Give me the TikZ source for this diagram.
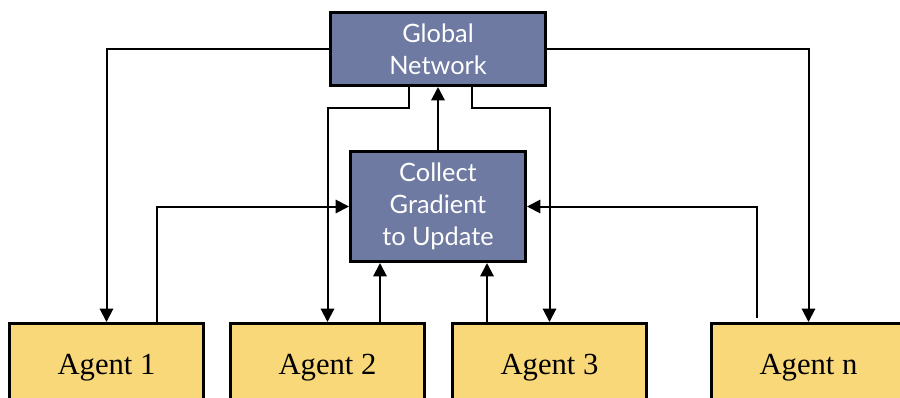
\documentclass[tikz,border=0pt]{standalone}
\usepackage{fontspec}
\usetikzlibrary{arrows.meta}
\newfontfamily\boxsans{Lato}
\newfontfamily\agentserif{Liberation Serif}
\definecolor{slate}{HTML}{6E7AA2}
\definecolor{sand}{HTML}{F9D87A}
\tikzset{
  netbox/.style={draw=black, line width=2.25pt, fill=slate, text=white, align=center,
    font=\boxsans\fontsize{19}{24}\selectfont, inner sep=0pt},
  agentbox/.style={draw=black, line width=2.25pt, fill=sand, text=black, align=center,
    font=\agentserif\fontsize{23}{26}\selectfont, inner sep=0pt,
    minimum width=145.5pt, minimum height=67.5pt},
  conn/.style={line width=1.5pt, -{Triangle[length=10pt,width=10pt]}},
}
\newcommand{\agtxt}[1]{\raisebox{5.6pt}{#1}}
\begin{document}
\begin{tikzpicture}[x=0.75pt,y=-0.75pt]
\clip (0,0) rectangle (900,397);
\useasboundingbox (0,0) rectangle (900,397);
\node[netbox, minimum width=161.25pt, minimum height=54.75pt] (G) at (438,49) {Global\\Network};
\node[netbox, minimum width=131.25pt, minimum height=82.5pt] (C) at (438,206.5) {Collect\\Gradient\\to Update};
\node[agentbox] (A1) at (106.5,368.5) {\agtxt{Agent 1}};
\node[agentbox] (A2) at (327.5,368.5) {\agtxt{Agent 2}};
\node[agentbox] (A3) at (549.5,368.5) {\agtxt{Agent 3}};
\node[agentbox] (An) at (808.5,368.5) {\agtxt{Agent n}};
\coordinate (k1) at (409,108);
\coordinate (k2) at (472,108);
\coordinate (u1) at (157,206.5);
\coordinate (un) at (757,206.5);
\coordinate (u2) at (380,0);
\coordinate (u3) at (487,0);
\draw[conn] (G.west) -| (A1.north);
\draw[conn] (G.east) -| (An.north);
\draw[conn] (k1 |- G.south) -- (k1) -| (A2.north);
\draw[conn] (k2 |- G.south) -- (k2) -| (A3.north);
\draw[conn] (C.north) -- (G.south);
\draw[conn] (u1 |- A1.north) -- (u1) -- (C.west);
\draw[conn, shorten <=3pt] (un |- An.north) -- (un) -- (C.east);
\draw[conn] (u2 |- A2.north) -- (u2 |- C.south);
\draw[conn] (u3 |- A3.north) -- (u3 |- C.south);
\end{tikzpicture}
\end{document}
